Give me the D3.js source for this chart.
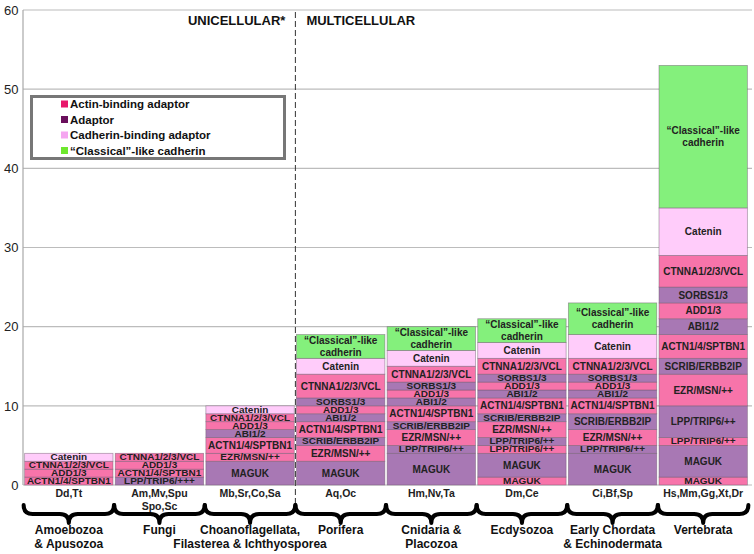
<!DOCTYPE html>
<html><head><meta charset="utf-8">
<script src="https://cdn.jsdelivr.net/npm/d3@7"></script>
<style>
html,body{margin:0;padding:0;background:#fff;}
svg{display:block;font-family:Arial,"Liberation Sans",sans-serif;}
</style></head>
<body>
<svg id="chart" width="754" height="554"></svg>
<script>
// ---- data ----
const categories = [["Dd,Tt"], ["Am,Mv,Spu", "Spo,Sc"], ["Mb,Sr,Co,Sa"], ["Aq,Oc"], ["Hm,Nv,Ta"], ["Dm,Ce"], ["Ci,Bf,Sp"], ["Hs,Mm,Gg,Xt,Dr"]];
const groups = [["Amoebozoa", "& Apusozoa"], ["Fungi"], ["Choanoflagellata,", "Filasterea & Ichthyosporea"], ["Porifera"], ["Cnidaria &", "Placozoa"], ["Ecdysozoa"], ["Early Chordata", "& Echinodermata"], ["Vertebrata"]];
const yTicks = [0, 10, 20, 30, 40, 50, 60];
const legendLabels = ["Actin-binding adaptor", "Adaptor", "Cadherin-binding adaptor", "\u201CClassical\u201D-like cadherin"];
const typeKeys = ["A", "D", "C", "K"];
// segments from bottom to top; type: A actin-binding, D adaptor, C cadherin-binding, K classical cadherin
const CL = "\u201CClassical\u201D-like|cadherin";
const segmentLabels = [
  ["ACTN1/4/SPTBN1", "ADD1/3", "CTNNA1/2/3/VCL", "Catenin"],
  ["LPP/TRIP6/+++", "ACTN1/4/SPTBN1", "ADD1/3", "CTNNA1/2/3/VCL"],
  ["MAGUK", "EZR/MSN/++", "ACTN1/4/SPTBN1", "ABI1/2", "ADD1/3", "CTNNA1/2/3/VCL", "Catenin"],
  ["MAGUK", "EZR/MSN/++", "SCRIB/ERBB2IP", "ACTN1/4/SPTBN1", "ABI1/2", "ADD1/3", "SORBS1/3", "CTNNA1/2/3/VCL", "Catenin", CL],
  ["MAGUK", "LPP/TRIP6/++", "EZR/MSN/++", "SCRIB/ERBB2IP", "ACTN1/4/SPTBN1", "ABI1/2", "ADD1/3", "SORBS1/3", "CTNNA1/2/3/VCL", "Catenin", CL],
  ["MAGUK", "MAGUK", "LPP/TRIP6/++", "LPP/TRIP6/++", "EZR/MSN/++", "SCRIB/ERBB2IP", "ACTN1/4/SPTBN1", "ABI1/2", "ADD1/3", "SORBS1/3", "CTNNA1/2/3/VCL", "Catenin", CL],
  ["MAGUK", "LPP/TRIP6/++", "EZR/MSN/++", "SCRIB/ERBB2IP", "ACTN1/4/SPTBN1", "ABI1/2", "ADD1/3", "SORBS1/3", "CTNNA1/2/3/VCL", "Catenin", CL],
  ["MAGUK", "MAGUK", "LPP/TRIP6/++", "LPP/TRIP6/++", "EZR/MSN/++", "SCRIB/ERBB2IP", "ACTN1/4/SPTBN1", "ABI1/2", "ADD1/3", "SORBS1/3", "CTNNA1/2/3/VCL", "Catenin", CL]
];
const segmentTypes = [
  ["A", "A", "A", "C"],
  ["D", "A", "A", "A"],
  ["D", "A", "A", "D", "A", "A", "C"],
  ["D", "A", "D", "A", "D", "A", "D", "A", "C", "K"],
  ["D", "D", "A", "D", "A", "D", "A", "D", "A", "C", "K"],
  ["A", "D", "A", "D", "A", "D", "A", "D", "A", "D", "A", "C", "K"],
  ["D", "D", "A", "D", "A", "D", "A", "D", "A", "C", "K"],
  ["A", "D", "A", "D", "A", "D", "A", "D", "A", "D", "A", "C", "K"]
];
const segmentValues = [
  [1, 1, 1, 1],
  [1, 1, 1, 1],
  [3, 1, 2, 1, 1, 1, 1],
  [3, 2, 1, 2, 1, 1, 1, 3, 2, 3],
  [4, 1, 2, 1, 2, 1, 1, 1, 2, 2, 3],
  [1, 3, 1, 1, 2, 1, 2, 1, 1, 1, 2, 2, 3],
  [4, 1, 2, 2, 2, 1, 1, 1, 2, 3, 4],
  [1, 4, 1, 4, 4, 2, 3, 2, 2, 2, 4, 6, 18]
];

// ---- styles ----
const barColor = {A: "#f774aa", D: "#a878b4", C: "#ffccfa", K: "#84f07c"};
const legendColor = {A: "#e8176b", D: "#6a0f5c", C: "#f5a6f0", K: "#6ee82e"};

const svg = d3.select("#chart");
const idx = d3.range(categories.length);
const x = d3.scaleBand().domain(idx).range([23.5, 748.5]).paddingInner(0.025).paddingOuter(0.0125);
const y = d3.scaleLinear().domain([0, 60]).range([485, 10]);

// gridlines
svg.append("g").selectAll("line").data(yTicks).join("line")
  .attr("x1", 23).attr("x2", 752)
  .attr("y1", d => y(d)).attr("y2", d => y(d))
  .attr("stroke", "#bcbcbc").attr("stroke-width", 1.2);
// y axis line
svg.append("line").attr("x1", 23).attr("x2", 23).attr("y1", y(60)).attr("y2", y(0))
  .attr("stroke", "#a8a8a8").attr("stroke-width", 1.2);
// y tick labels
svg.append("g").selectAll("text").data(yTicks).join("text")
  .attr("x", 18.5).attr("y", d => y(d)).attr("dy", "0.36em")
  .attr("text-anchor", "end").attr("font-size", 13).attr("fill", "#222")
  .text(d => d);

// bars
idx.forEach(i => {
  let cum = 0;
  const segs = segmentValues[i].map((v, j) => {
    const s = {y0: cum, y1: cum + v, label: segmentLabels[i][j], type: segmentTypes[i][j]};
    cum += v;
    return s;
  });
  const g = svg.append("g");
  g.selectAll("rect").data(segs).join("rect")
    .attr("x", x(i)).attr("width", x.bandwidth())
    .attr("y", d => y(d.y1)).attr("height", d => y(d.y0) - y(d.y1))
    .attr("fill", d => barColor[d.type])
    .attr("stroke", "rgba(110,90,110,0.55)").attr("stroke-width", 0.8);
  segs.forEach(d => {
    const lines = d.label.split("|");
    const cy = (y(d.y0) + y(d.y1)) / 2;
    const h = y(d.y0) - y(d.y1);
    const sy = lines.length === 1 ? Math.min(1, h / 9.6) : 1;
    const lh = 12;
    const cx = x(i) + x.bandwidth() / 2;
    lines.forEach((ln, k) => {
      g.append("text")
        .attr("transform", `translate(${cx},${cy + (k - (lines.length - 1) / 2) * lh}) scale(1,${sy})`)
        .attr("dy", "0.36em")
        .attr("text-anchor", "middle")
        .attr("font-size", 10).attr("font-weight", "bold").attr("fill", "#222")
        .text(ln);
    });
  });
});

// dashed divider between unicellular and multicellular
const divX = x(3) - x.step() * x.paddingInner() / 2;
svg.append("line").attr("x1", divX).attr("x2", divX).attr("y1", 12).attr("y2", 510)
  .attr("stroke", "#333").attr("stroke-width", 1).attr("stroke-dasharray", "6,3");
svg.append("text").attr("x", divX - 10).attr("y", 25).attr("text-anchor", "end")
  .attr("font-size", 13).attr("font-weight", "bold").attr("fill", "#111").text("UNICELLULAR*");
svg.append("text").attr("x", divX + 11).attr("y", 25).attr("text-anchor", "start")
  .attr("font-size", 13).attr("font-weight", "bold").attr("fill", "#111").text("MULTICELLULAR");

// category labels
idx.forEach(i => {
  categories[i].forEach((ln, k) => {
    svg.append("text").attr("x", x(i) + x.bandwidth() / 2).attr("y", 497 + k * 12.5)
      .attr("text-anchor", "middle").attr("font-size", 10.5).attr("font-weight", "bold")
      .attr("fill", "#222").text(ln);
  });
});

// braces
idx.forEach(i => {
  const x0 = x(i) - 1, x1 = x(i) + x.bandwidth() + 1, m = (x0 + x1) / 2;
  const yT = 505, yL = 514, yB = 523, r = 9;
  const p = `M${x0},${yT} Q${x0},${yL} ${x0 + r},${yL} L${m - r},${yL} Q${m},${yL} ${m},${yB} Q${m},${yL} ${m + r},${yL} L${x1 - r},${yL} Q${x1},${yL} ${x1},${yT}`;
  svg.append("path").attr("d", p).attr("fill", "none").attr("stroke", "#000")
    .attr("stroke-width", 4).attr("stroke-linecap", "round").attr("stroke-linejoin", "round");
});

// group labels
idx.forEach(i => {
  groups[i].forEach((ln, k) => {
    svg.append("text").attr("x", x(i) + x.bandwidth() / 2).attr("y", 534 + k * 14)
      .attr("text-anchor", "middle").attr("font-size", 12).attr("font-weight", "bold")
      .attr("fill", "#111").text(ln);
  });
});

// legend
const lg = svg.append("g");
lg.append("rect").attr("x", 31.5).attr("y", 96.5).attr("width", 253).attr("height", 62)
  .attr("fill", "#fff").attr("stroke", "#777").attr("stroke-width", 3);
const legY = [104, 119.5, 135, 150.5];
typeKeys.forEach((t, k) => {
  lg.append("rect").attr("x", 61).attr("y", legY[k] - 3.5).attr("width", 7).attr("height", 7)
    .attr("fill", legendColor[t]);
  lg.append("text").attr("x", 70).attr("y", legY[k]).attr("dy", "0.36em")
    .attr("font-size", 11.5).attr("font-weight", "bold").attr("fill", "#111")
    .text(legendLabels[k]);
});
</script>
</body></html>
